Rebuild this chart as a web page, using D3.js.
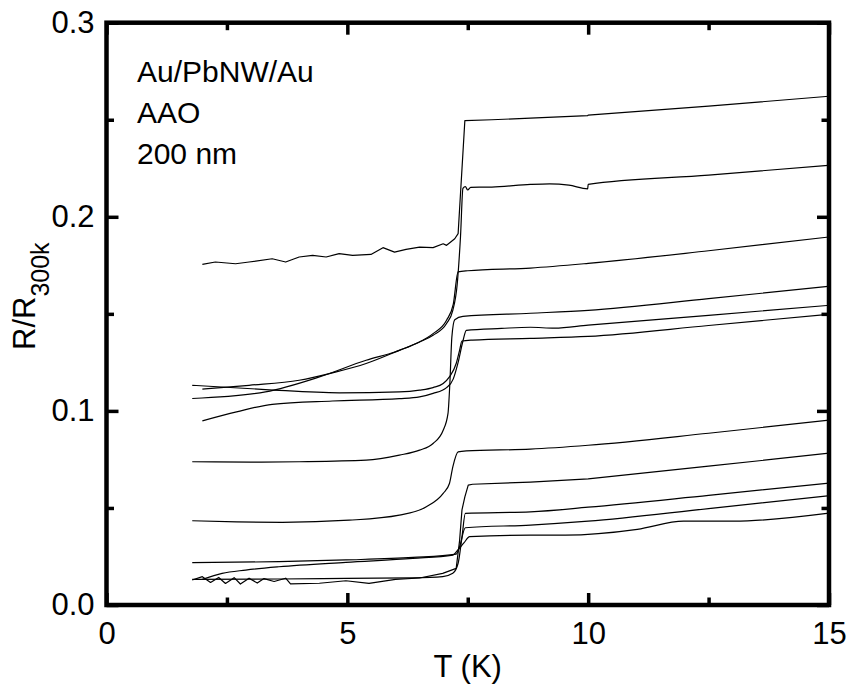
<!DOCTYPE html>
<html>
<head>
<meta charset="utf-8">
<script src="https://cdn.jsdelivr.net/npm/d3@7"></script>
<style>
    body { margin: 0; background: #fff; }
    #vis { width: 850px; height: 685px; }
    text { font-family: "Liberation Sans", Arial, sans-serif; fill: #000; }
</style>
</head>
<body>
<div id="vis"></div>
<script>
// axis ticks
const xMajor = [0, 5, 10, 15];
const xMinor = [2.5, 7.5, 12.5];
const yMajor = [0, 0.1, 0.2, 0.3];
const yMinor = [0.05, 0.15, 0.25];
const notes = ["Au/PbNW/Au", "AAO", "200 nm"];

// R/R300k vs T (K), one array per sample
const c1 = [[1.99,0.1755],[2.26,0.1767],[2.68,0.1758],[2.96,0.1767],[3.44,0.1784],[3.72,0.1767],[4.0,0.1793],
    [4.28,0.1801],[4.56,0.1793],[4.83,0.181],[5.11,0.1801],[5.49,0.1806],[5.74,0.1841],[5.98,0.1818],[6.22,0.1832],
    [6.5,0.1844],[6.78,0.1841],[6.99,0.1861],[7.06,0.1853],[7.12,0.1865],[7.23,0.1887],[7.3,0.1913],[7.44,0.2496],
    [8.0,0.2500],[8.8,0.2508],[9.99,0.2521],[10.0,0.2524],[12.5,0.2570],[15,0.2621]];
const c2 = [[1.99,0.1112],[2.96,0.1132],[4.0,0.1158],[4.69,0.1196],[5.39,0.1244],[6.08,0.1312],[6.5,0.1355],
    [6.78,0.139],[7.06,0.145],[7.19,0.1518],[7.28,0.165],[7.35,0.19],[7.40,0.2146],[7.45,0.2155],[7.5,0.2138],
    [7.56,0.2152],[8.0,0.2153],[8.8,0.2167],[9.2,0.217],[9.6,0.2163],[9.99,0.2144],[10.0,0.2167],[12.5,0.2215],[15,0.2265]];
const c3 = [[1.78,0.1064],[3.3,0.1098],[4.42,0.1175],[5.39,0.1261],[6.0,0.1305],[6.43,0.1347],[6.78,0.1398],
    [7.06,0.1467],[7.2,0.155],[7.3,0.1716],[7.5,0.1722],[8.8,0.1736],[10.0,0.176],[12.5,0.1825],[15,0.1896]];
const c4 = [[1.78,0.0738],[3.0,0.0736],[4.0,0.0738],[5.39,0.0746],[6.08,0.0772],[6.5,0.0798],[6.78,0.0832],
    [6.99,0.09],[7.09,0.0987],[7.13,0.115],[7.17,0.138],[7.23,0.1470],[7.4,0.1487],[8.8,0.1503],[10.0,0.1518],
    [12.5,0.1578],[15,0.1642]];
const c5 = [[1.99,0.0949],[2.7,0.0995],[3.44,0.1034],[4.69,0.1051],[6.08,0.1063],[6.5,0.1072],[6.78,0.109],
    [7.06,0.112],[7.2,0.1165],[7.3,0.125],[7.4,0.136],[7.47,0.1415],[8.2,0.1425],[8.8,0.1431],[9.3,0.1426],
    [10.0,0.1442],[12.5,0.1492],[15,0.1544]];
const c6 = [[1.78,0.1132],[3.3,0.111],[4.83,0.1093],[6.08,0.1098],[6.5,0.1107],[6.78,0.112],[6.99,0.1141],
    [7.12,0.1175],[7.26,0.1244],[7.33,0.1312],[7.38,0.1360],[7.6,0.1365],[8.8,0.1374],[10.0,0.1384],[12.5,0.144],[15,0.1498]];
const c7 = [[1.78,0.0434],[2.7,0.0428],[3.65,0.0426],[5.04,0.0437],[6.08,0.0463],[6.64,0.0506],[6.99,0.0575],
    [7.12,0.0626],[7.19,0.0712],[7.3,0.0789],[7.47,0.0794],[8.8,0.0803],[10.0,0.0823],[12.5,0.0885],[15,0.0952]];
const c8 = [[1.78,0.0129],[1.99,0.0146],[2.16,0.0116],[2.33,0.0142],[2.47,0.0111],[2.65,0.0141],[2.78,0.0108],
    [2.96,0.0138],[3.13,0.0113],[3.27,0.0136],[3.48,0.0121],[3.72,0.0138],[3.82,0.0109],[4.42,0.0112],[4.97,0.0125],
    [5.45,0.0111],[6.0,0.0132],[6.5,0.0139],[6.98,0.0163],[7.26,0.0189],[7.33,0.033],[7.38,0.049],[7.44,0.0557],
    [7.51,0.0618],[7.6,0.0622],[8.8,0.0633],[10.0,0.065],[12.5,0.0715],[15,0.0782]];
const c9 = [[1.78,0.0132],[3.58,0.0134],[4.97,0.0137],[6.36,0.014],[6.98,0.0146],[7.19,0.0163],[7.3,0.0215],
    [7.38,0.035],[7.45,0.0472],[8.8,0.048],[10.0,0.0504],[12.5,0.0565],[15,0.0628]];
const c10 = [[1.78,0.0218],[3.58,0.0223],[4.97,0.0232],[6.36,0.0245],[7.26,0.0262],[7.33,0.03],[7.45,0.0398],
    [8.8,0.0412],[10.0,0.0432],[12.5,0.0497],[15,0.0563]];
const c11 = [[1.99,0.0132],[2.4,0.0163],[2.89,0.018],[3.58,0.0197],[4.97,0.022],[6.36,0.024],[7.19,0.0257],
    [7.3,0.0285],[7.42,0.032],[7.54,0.0352],[8.8,0.036],[9.52,0.036],[11.02,0.039],[11.98,0.0432],[13.02,0.0432],[15,0.0473]];
const curves = [c1, c2, c3, c4, c5, c6, c7, c8, c9, c10, c11];
// the noisy traces are drawn point to point, the others smoothed
const noisy = [c1, c8];

class chart{
    constructor(){
        this.width = 850,
        this.height = 685,
        this.x = d3.scaleLinear().domain([0, 15]).range([106.5, 829]),
        this.y = d3.scaleLinear().domain([0, 0.3]).range([605, 22.7]),
        this.svg
    }

    init(){
        this.svg = d3.select("#vis")
            .append("svg")
            .attr("width", this.width)
            .attr("height", this.height);
        this.drawCurves();
        this.drawAxes();
        this.drawText();
    }

    drawCurves(){
        let smooth = d3.line()
            .curve(d3.curveMonotoneX)
            .x(d => this.x(d[0]))
            .y(d => this.y(d[1]));
        let straight = d3.line()
            .x(d => this.x(d[0]))
            .y(d => this.y(d[1]));
        this.svg.append("g")
            .selectAll("path")
            .data(curves)
            .enter()
            .append("path")
            .attr("d", d => noisy.includes(d) ? straight(d) : smooth(d))
            .attr("fill", "none")
            .attr("stroke", "#000")
            .attr("stroke-width", 1.2)
            .attr("stroke-linejoin", "round");
    }

    // ticks point inwards on all four sides, labels only bottom and left
    drawAxes(){
        let x = this.x, y = this.y;
        let [x0, x1] = x.range(), [y0, y1] = y.range();
        let sets = [
            [d3.axisBottom(x).tickValues(xMajor).tickSize(-12).tickPadding(17).tickFormat(d3.format("d")), `translate(0,${y0})`],
            [d3.axisBottom(x).tickValues(xMinor).tickSize(-7.5).tickFormat(""), `translate(0,${y0})`],
            [d3.axisTop(x).tickValues(xMajor).tickSize(-12).tickFormat(""), `translate(0,${y1})`],
            [d3.axisTop(x).tickValues(xMinor).tickSize(-7.5).tickFormat(""), `translate(0,${y1})`],
            [d3.axisLeft(y).tickValues(yMajor).tickSize(-12).tickPadding(12).tickFormat(d3.format(".1f")), `translate(${x0},0)`],
            [d3.axisLeft(y).tickValues(yMinor).tickSize(-7.5).tickFormat(""), `translate(${x0},0)`],
            [d3.axisRight(y).tickValues(yMajor).tickSize(-12).tickFormat(""), `translate(${x1},0)`],
            [d3.axisRight(y).tickValues(yMinor).tickSize(-7.5).tickFormat(""), `translate(${x1},0)`]
        ];
        sets.forEach(s => {
            let g = this.svg.append("g").attr("transform", s[1]).call(s[0]);
            g.select(".domain").remove();
            g.selectAll("line").attr("stroke", "#000").attr("stroke-width", 3.5);
            g.selectAll("text").attr("font-size", 31).attr("font-family", null).attr("fill", "#000");
        });

        this.svg.append("rect")
            .attr("x", x0).attr("y", y1)
            .attr("width", x1 - x0).attr("height", y0 - y1)
            .attr("fill", "none")
            .attr("stroke", "#000")
            .attr("stroke-width", 4.5);
    }

    drawText(){
        this.svg.append("text")
            .attr("x", this.x(7.5))
            .attr("y", 677)
            .attr("text-anchor", "middle")
            .attr("font-size", 31)
            .text("T (K)");

        let yl = this.svg.append("text")
            .attr("transform", "translate(35,350) rotate(-90)")
            .attr("font-size", 31);
        yl.append("tspan").text("R/R");
        yl.append("tspan").attr("font-size", 25).attr("dy", 14).text("300k");

        this.svg.append("g")
            .selectAll("text")
            .data(notes)
            .enter()
            .append("text")
            .attr("x", 137)
            .attr("y", (d, i) => 81.5 + i * 41)
            .attr("font-size", 30)
            .text(d => d);
    }
}

let fig = new chart();
fig.init();
</script>
</body>
</html>
